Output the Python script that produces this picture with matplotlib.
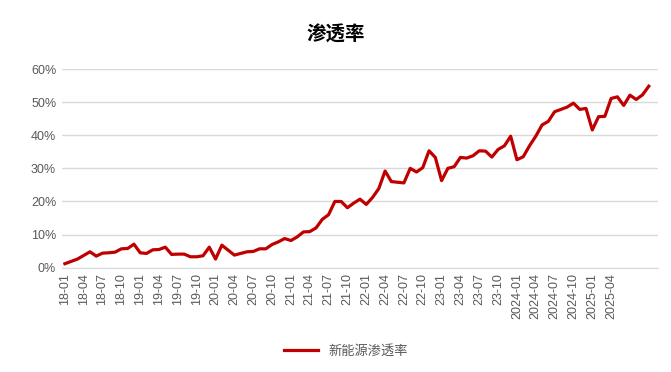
import matplotlib
matplotlib.use("Agg")
import matplotlib.pyplot as plt

plt.rcParams['font.family'] = ['Liberation Sans', 'Noto Sans CJK SC', 'DejaVu Sans']

# Monthly categories 2018-01 .. 2025-10
months = []
for y in range(2018, 2026):
    for m in range(1, 13):
        if y == 2025 and m > 10:
            break
        if y < 2024:
            months.append(f"{y % 100:02d}-{m:02d}")
        else:
            months.append(f"{y}-{m:02d}")

# NEV penetration (%)
penetration = [
    1.2, 1.9, 2.6, 3.7, 4.8, 3.5, 4.4, 4.5, 4.7, 5.7, 5.8, 7.1,
    4.5, 4.3, 5.4, 5.5, 6.2, 4.0, 4.1, 4.1, 3.3, 3.3, 3.6, 6.2,
    2.6, 6.8, 5.3, 3.8, 4.3, 4.8, 4.9, 5.7, 5.7, 7.0, 7.8, 8.8,
    8.2, 9.3, 10.8, 10.9, 12.0, 14.6, 16.0, 20.0, 20.0, 18.1, 19.5, 20.7,
    19.1, 21.2, 23.9, 29.2, 26.0, 25.8, 25.6, 30.0, 28.9, 30.2, 35.3, 33.3,
    26.3, 30.0, 30.5, 33.3, 33.1, 33.8, 35.3, 35.2, 33.4, 35.7, 36.8, 39.7,
    32.6, 33.5, 36.8, 39.7, 43.1, 44.2, 47.1, 47.8, 48.5, 49.7, 47.8, 48.1,
    41.6, 45.6, 45.7, 51.1, 51.6, 49.0, 52.1, 50.8, 52.2, 54.8,
]

yticks = [0, 10, 20, 30, 40, 50, 60]
last_label = months.index('2025-04')

fig = plt.figure(figsize=(6.71, 3.72), dpi=100)
ax = fig.add_axes([0.092, 0.2804, 0.888, 0.5341])

x = list(range(len(months)))
ax.plot(x, penetration, color='#C00000', linewidth=2.3, label='新能源渗透率',
        solid_joinstyle='round')

ax.set_ylim(0, 60)
ax.set_xlim(-0.5, 94.4)
ax.set_yticks(yticks)
ax.set_yticklabels([f"{v}%" for v in yticks])
ax.set_xticks(x[:last_label + 1:3])
ax.set_xticklabels(months[:last_label + 1:3], rotation=90)

ax.grid(axis='y', color='#D9D9D9', linewidth=1)
ax.set_axisbelow(True)
for s in ['top', 'right', 'left']:
    ax.spines[s].set_visible(False)
ax.spines['bottom'].set_color('#D9D9D9')
ax.tick_params(axis='both', length=0, labelsize=9, colors='#595959', pad=4)

fig.text(0.5, 0.905, '渗透率', ha='center', va='center', fontsize=14,
         fontweight='bold', family=['Noto Sans CJK SC'])

fig.legend(loc='center', bbox_to_anchor=(346 / 671, 1 - 351 / 372), frameon=False,
           prop={'family': ['Noto Sans CJK SC'], 'size': 9.5},
           labelcolor='#595959', handlelength=2.6)

fig.savefig('out.png', dpi=100)
